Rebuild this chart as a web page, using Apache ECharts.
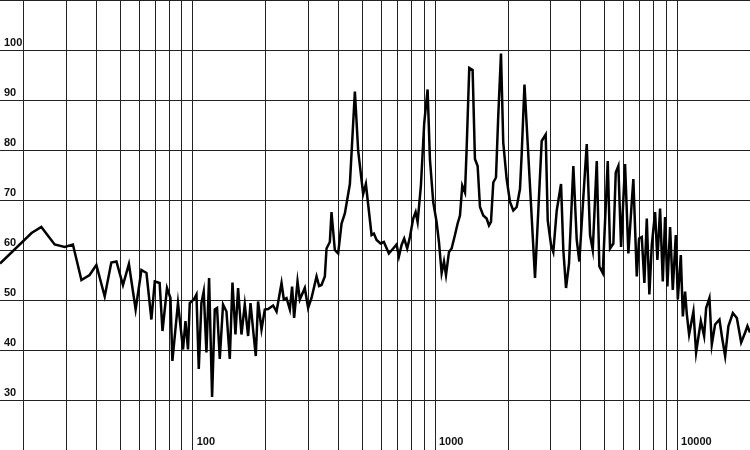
<!DOCTYPE html>
<html>
<head>
<meta charset="utf-8">
<script src="https://cdn.jsdelivr.net/npm/echarts@6/dist/echarts.min.js"></script>
<style>html,body{margin:0;padding:0;background:#fff;}#c{width:750px;height:450px;}</style>
</head>
<body>
<div id="c"></div>
<script>
const freq = [16,21.6,23.7,26.9,29.6,32.0,34.7,37.5,40.0,43.3,46.1,48.4,51.5,54.5,58.1,61.4,64.4,67.5,69.7,73.0,75.0,78.3,80.9,82.4,86.9,91.2,93.3,95.6,97.2,101,103.6,105.9,108.6,111,113.9,116.8,120.2,123.3,126,129.3,133.4,137.8,142.2,145.9,150.1,153.9,158.9,164,169.3,173.2,177.5,182.1,186.1,192.3,198.4,204.7,214.7,221.8,232.6,237.7,243.9,251.7,257.2,262.2,270.8,276.8,290.2,299.5,309.4,324.5,332.5,340.2,351.1,356.8,368.2,374.1,386.1,398.5,411.6,424.7,445.5,467.2,482.1,505.5,518.7,547.6,559.7,574.3,596.5,615.5,645.5,672.5,694.5,710,728.5,746.7,768.3,788.4,813.5,832.3,848.3,875.4,903.3,932.8,953.5,984,1016,1039,1066,1090,1111,1143,1172,1210,1241,1269,1297,1331,1352,1386,1431,1463,1501,1535,1583,1635,1672,1704,1742,1787,1826,1874,1915,1978,2042,2107,2176,2245,2282,2343,2590,2760,2867,2923,3016,3082,3184,3317,3390,3478,3579,3729,3851,3948,4101,4236,4371,4485,4659,4775,4932,5172,5286,5456,5581,5721,5870,6097,6292,6499,6598,6816,6966,7147,7327,7496,7682,7861,8112,8291,8507,8728,8921,9118,9356,9599,9876,10070,10360,10560,10790,10970,11210,11680,11980,12530,12930,13180,13600,13910,14350,14590,14960,15300,15790,16290,16990,17650,18390,19100,19520,20000];
const level = [57.3,63.4,64.6,61.1,60.6,61.1,54.0,55.0,57.0,50.7,57.5,57.7,53.0,57.2,48.1,56.0,55.4,46.1,53.7,53.4,43.8,52.4,50.4,37.8,49.4,40.1,45.8,40.1,49.4,50.1,51.1,36.2,49.4,51.7,39.5,54.4,30.6,48.1,48.4,38.2,49.1,47.7,38.2,53.5,43.1,52.4,43.1,49.1,42.8,49.4,44.1,38.8,49.7,44.1,48.1,48.2,48.9,47.7,53.4,50.1,50.4,48.1,52.7,46.4,53.7,50.1,52.4,48.4,50.4,54.7,52.8,53.0,54.7,60.3,61.6,67.6,60.0,59.3,65.3,67.3,73.2,91.7,79.8,71.2,73.2,63.0,63.3,62.0,61.3,61.6,59.3,60.3,61.1,58.7,61.0,62.3,60.3,62.6,66.3,67.6,65.6,72.9,85.4,92.1,78.2,69.6,65.6,61.6,55.4,57.7,55.0,59.6,60.3,63.0,65.3,66.9,72.9,71.5,80.2,96.4,96.0,78.2,76.8,68.6,66.9,66.3,64.9,65.6,73.5,74.5,86.8,99.3,81.5,74.2,69.6,67.9,68.6,72.2,79.2,93.1,54.4,81.8,83.1,65.9,61.0,59.6,67.9,73.2,60.0,52.4,57.3,76.8,62.0,57.7,70.6,81.2,63.0,60.0,77.8,56.7,55.4,77.8,60.3,61.3,75.5,76.8,60.6,77.2,59.3,69.6,74.2,54.7,62.3,62.6,53.4,66.3,51.1,61.0,67.6,58.0,68.3,53.7,66.6,52.7,64.6,52.0,63.0,50.1,59.0,46.7,51.7,47.1,43.1,47.7,39.5,45.8,42.8,48.4,50.4,41.1,45.1,44.8,46.1,42.8,38.8,44.8,47.4,46.4,41.5,43.5,44.8,43.5];
const freqGridLines = [20,30,40,50,60,70,80,90,100,200,300,400,500,600,700,800,900,1000,2000,3000,4000,5000,6000,7000,8000,9000,10000,20000];
const freqLabels = [100,1000,10000];
const levelLabels = [30,40,50,60,70,80,90,100];

const chart = echarts.init(document.getElementById('c'), null, {renderer:'canvas'});
const pts = freq.map((f,i)=>[f, level[i]]);
const font = '"Liberation Sans", Arial, Helvetica, sans-serif';
chart.setOption({
  animation: false,
  backgroundColor: '#ffffff',
  grid: {left: 0, right: 0, top: -2.1, bottom: -1.4, containLabel: false},
  xAxis: {
    type: 'log', logBase: 10, min: 16, max: 20000,
    axisLine: {show: false}, axisTick: {show: false},
    splitLine: {show: false},
    axisLabel: {
      inside: true, align: 'left', verticalAlign: 'bottom', margin: 3,
      padding: [0,0,0,4],
      color: '#111', fontSize: 11, fontWeight: 'bold', fontFamily: font,
      showMinLabel: false, showMaxLabel: false,
      formatter: v => { const r = Math.round(v); return freqLabels.includes(r) ? String(r) : ''; }
    }
  },
  yAxis: {
    type: 'value', min: 20, max: 110, interval: 10,
    axisLine: {show: false}, axisTick: {show: false},
    splitLine: {show: true, lineStyle: {color: '#222', width: 1}},
    axisLabel: {
      inside: true, align: 'left', verticalAlign: 'bottom', margin: 4,
      padding: [0,0,2,0],
      color: '#111', fontSize: 11, fontWeight: 'bold', fontFamily: font,
      formatter: v => levelLabels.includes(Math.round(v)) ? String(Math.round(v)) : ''
    }
  },
  series: [
    {
      type: 'line', data: [[16, 20]], showSymbol: false, symbol: 'none', z: 1,
      lineStyle: {opacity: 0}, silent: true,
      markLine: {
        silent: true, symbol: ['none','none'], label: {show: false},
        lineStyle: {color: '#222', width: 1, type: 'solid'},
        emphasis: {disabled: true},
        data: freqGridLines.map(f => ({xAxis: f}))
      }
    },
    {
      type: 'line', data: pts, showSymbol: false, symbol: 'none', z: 5,
      lineStyle: {color: '#000', width: 2.5, join: 'miter'},
      silent: true
    }
  ]
});
</script>
</body>
</html>
